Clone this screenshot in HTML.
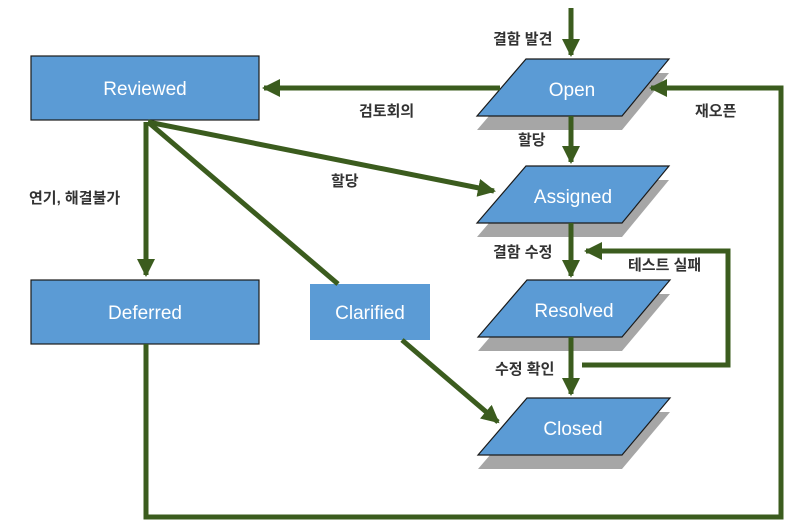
<!DOCTYPE html>
<html><head><meta charset="utf-8"><style>
html,body{margin:0;padding:0;background:#fff;}
svg{display:block;}
.n{font-family:"Liberation Sans","Noto Sans CJK KR",sans-serif;font-size:19px;fill:#fff;text-anchor:middle;}
.l{font-family:"Liberation Sans","Noto Sans CJK KR",sans-serif;font-size:15px;font-weight:bold;fill:#333;}
</style></head><body>
<svg width="803" height="530" viewBox="0 0 803 530">
<defs>
<marker id="a" markerWidth="3.6" markerHeight="3.6" refX="3.2" refY="1.8" orient="auto" markerUnits="strokeWidth">
<path d="M0,0 L3.6,1.8 L0,3.6 z" fill="#3b5c1e"/></marker>
</defs>
<g fill="#a6a6a6">
<polygon points="526,73 669,73 622,130 477,130"/>
<polygon points="526,180 669,180 622,237 477,237"/>
<polygon points="527,294 670,294 622,351 478,351"/>
<polygon points="527,412 670,412 622,469 478,469"/>
</g>
<g fill="#5b9bd5" stroke="#1a1a1a" stroke-width="1.2">
<rect x="31" y="56" width="228" height="64"/>
<rect x="31" y="280" width="228" height="64"/>
<polygon points="526,59 669,59 622,116 477,116"/>
<polygon points="526,166 669,166 622,223 477,223"/>
<polygon points="527,280 670,280 622,337 478,337"/>
<polygon points="527,398 670,398 622,455 478,455"/>
</g>
<rect x="310" y="284" width="120" height="56" fill="#5b9bd5"/>
<g stroke="#3b5c1e" stroke-width="5" fill="none">
<line x1="571" y1="8" x2="571" y2="55" marker-end="url(#a)"/>
<line x1="500" y1="88" x2="264" y2="88" marker-end="url(#a)"/>
<line x1="571" y1="116" x2="571" y2="162" marker-end="url(#a)"/>
<line x1="571" y1="223" x2="571" y2="276" marker-end="url(#a)"/>
<line x1="571" y1="337" x2="571" y2="394" marker-end="url(#a)"/>
<line x1="146" y1="122" x2="146" y2="275" marker-end="url(#a)"/>
<line x1="148" y1="122" x2="494" y2="191" marker-end="url(#a)"/>
<line x1="148" y1="122" x2="338" y2="284"/>
<line x1="402" y1="340" x2="498" y2="422" marker-end="url(#a)"/>
<polyline points="582,365 728,365 728,251 586,251" marker-end="url(#a)"/>
<polyline points="146,344 146,517 781,517 781,88 651,88" marker-end="url(#a)"/>
</g>
<text class="n" x="145" y="95">Reviewed</text>
<text class="n" x="145" y="319">Deferred</text>
<text class="n" x="370" y="319">Clarified</text>
<text class="n" x="572" y="96">Open</text>
<text class="n" x="573" y="203">Assigned</text>
<text class="n" x="574" y="317">Resolved</text>
<text class="n" x="573" y="435">Closed</text>
<text class="l" x="493" y="44">결함 발견</text>
<text class="l" x="359" y="116">검토회의</text>
<text class="l" x="518" y="145">할당</text>
<text class="l" x="695" y="116">재오픈</text>
<text class="l" x="331" y="186">할당</text>
<text class="l" x="29" y="203">연기, 해결불가</text>
<text class="l" x="493" y="257">결함 수정</text>
<text class="l" x="628" y="270">테스트 실패</text>
<text class="l" x="495" y="374">수정 확인</text>
</svg>
</body></html>
